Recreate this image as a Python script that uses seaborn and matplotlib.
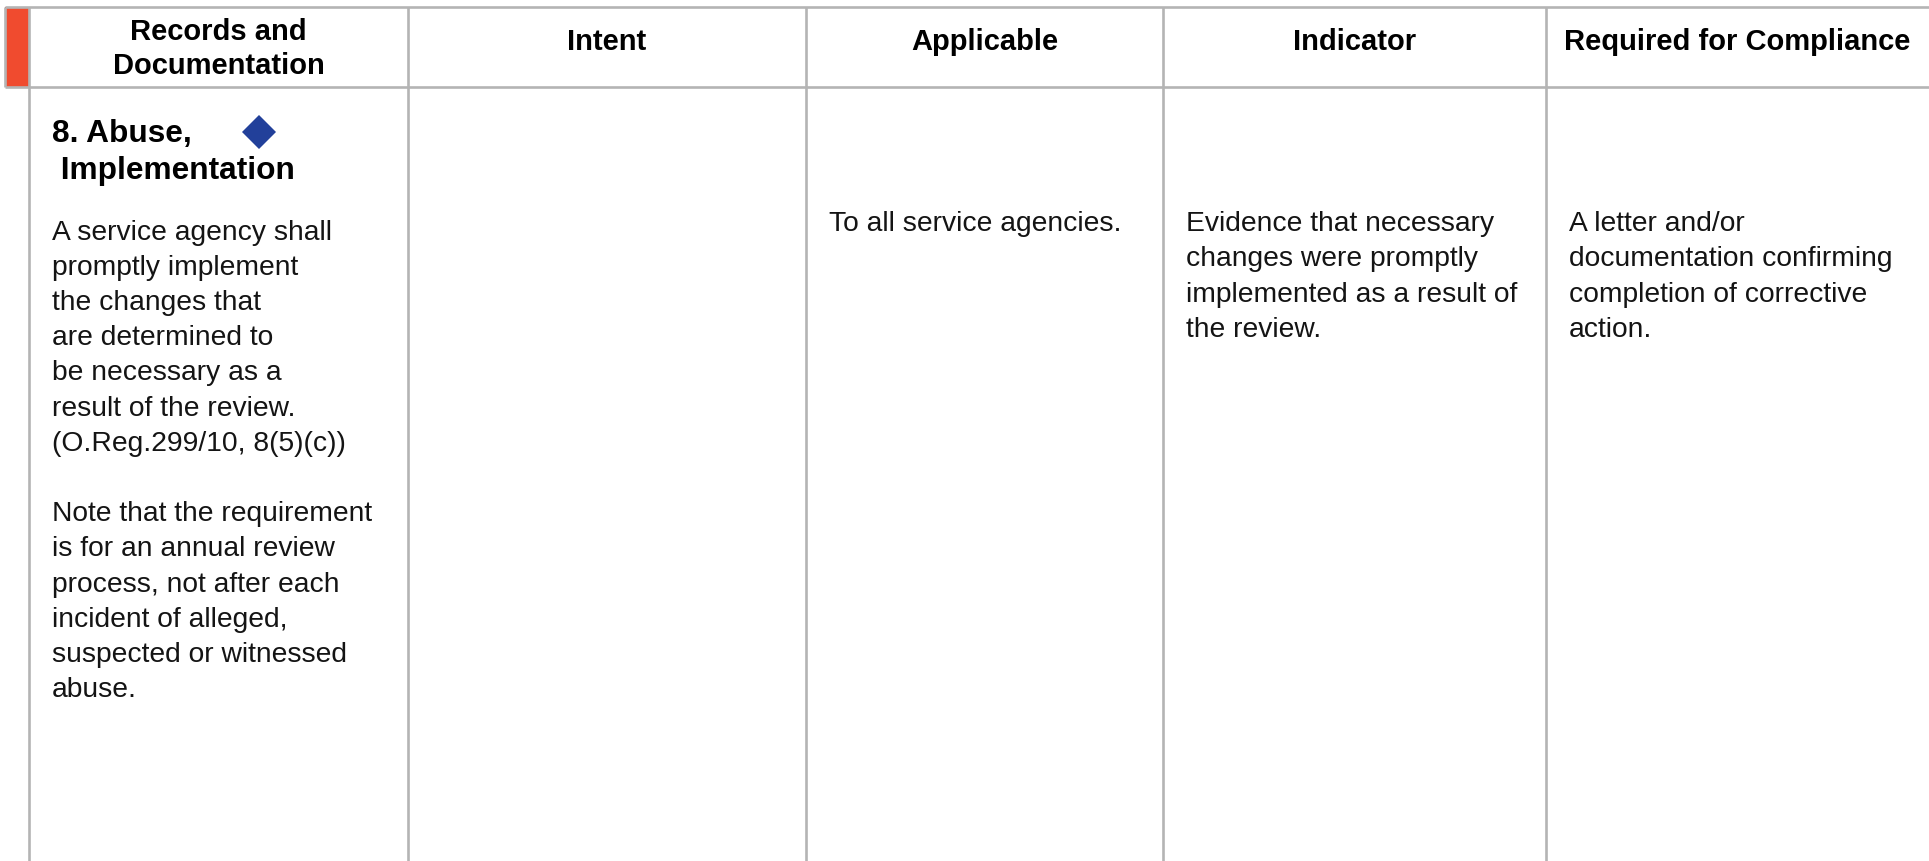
import matplotlib
matplotlib.use("Agg")
import matplotlib.pyplot as plt
import matplotlib.patches as mpatches
import seaborn as sns
import pandas as pd

# ---------------- data (table content) ----------------
headers = ["Records and\nDocumentation", "Intent", "Applicable", "Indicator", "Required for Compliance"]
title_lines = ["8. Abuse,", " Implementation"]
requirement_lines = [
    "A service agency shall",
    "promptly implement",
    "the changes that",
    "are determined to",
    "be necessary as a",
    "result of the review.",
    "(O.Reg.299/10, 8(5)(c))",
    "",
    "Note that the requirement",
    "is for an annual review",
    "process, not after each",
    "incident of alleged,",
    "suspected or witnessed",
    "abuse.",
]
intent_lines = []
applicable_lines = ["To all service agencies."]
indicator_lines = [
    "Evidence that necessary",
    "changes were promptly",
    "implemented as a result of",
    "the review.",
]
compliance_lines = [
    "A letter and/or",
    "documentation confirming",
    "completion of corrective",
    "action.",
]
marker_kind = ["diamond"]

# ---------------- layout ----------------
W, H = 1929, 861
col_edges = [29, 408, 806, 1163, 1546, 1929]
top_y, head_y = 7, 87
grid_color = "#B4B4B4"
accent_red = "#F04B2F"
diamond_blue = "#22409A"

sns.set_theme(style="white")
plt.rcParams["font.family"] = ["Liberation Sans", "DejaVu Sans"]

fig = plt.figure(figsize=(W / 100, H / 100), dpi=100)
ax = fig.add_axes([0, 0, 1, 1])
ax.set_xlim(0, W)
ax.set_ylim(H, 0)
ax.axis("off")

# red header marker cell
ax.add_patch(mpatches.Rectangle((5, top_y), col_edges[0] - 5, head_y - top_y,
                                facecolor=accent_red, edgecolor="none", zorder=1))

# grid lines
lw = 1.9
ax.plot([5, W], [top_y, top_y], color=grid_color, lw=lw, zorder=2, solid_capstyle="butt")
ax.plot([5, W], [head_y, head_y], color=grid_color, lw=lw, zorder=2, solid_capstyle="butt")
ax.plot([5, 5], [top_y, head_y], color=grid_color, lw=lw, zorder=2, solid_capstyle="butt")
for xe in col_edges[:-1]:
    ax.plot([xe, xe], [top_y, H], color=grid_color, lw=lw, zorder=2, solid_capstyle="butt")

# headers
head_fs = 21
for i, h in enumerate(headers):
    xc = (col_edges[i] + col_edges[i + 1]) / 2
    lines = h.split("\n")
    if len(lines) == 1:
        ax.text(xc, 42, lines[0], ha="center", va="center", fontsize=head_fs,
                fontweight="bold", color="black", zorder=3)
    else:
        for k, ln in enumerate(lines):
            ax.text(xc, 32 + 34.5 * k, ln, ha="center", va="center", fontsize=head_fs,
                    fontweight="bold", color="black", zorder=3)

# title in first column
pad = 23
for k, ln in enumerate(title_lines):
    ax.text(col_edges[0] + pad, 134 + 37 * k, ln, ha="left", va="center",
            fontsize=22.8, fontweight="bold", color="black", zorder=3)

# diamond marker via seaborn
dm = pd.DataFrame({"x": [259], "y": [132], "kind": marker_kind})
sns.scatterplot(data=dm, x="x", y="y", marker="D", s=300, color=diamond_blue,
                edgecolor="none", ax=ax, legend=False, zorder=4)

# body text
body_fs = 20.3
def draw_lines(lines, x0, y0, pitch):
    for k, ln in enumerate(lines):
        if ln:
            ax.text(x0, y0 + pitch * k, ln, ha="left", va="center",
                    fontsize=body_fs, color="#141414", zorder=3)

draw_lines(requirement_lines, col_edges[0] + pad, 232.5, 35.2)
draw_lines(intent_lines, col_edges[1] + pad, 224, 35.3)
draw_lines(applicable_lines, col_edges[2] + pad, 224, 35.3)
draw_lines(indicator_lines, col_edges[3] + pad, 224, 35.3)
draw_lines(compliance_lines, col_edges[4] + pad, 224, 35.3)

fig.savefig("out.png", dpi=100, facecolor="white")
